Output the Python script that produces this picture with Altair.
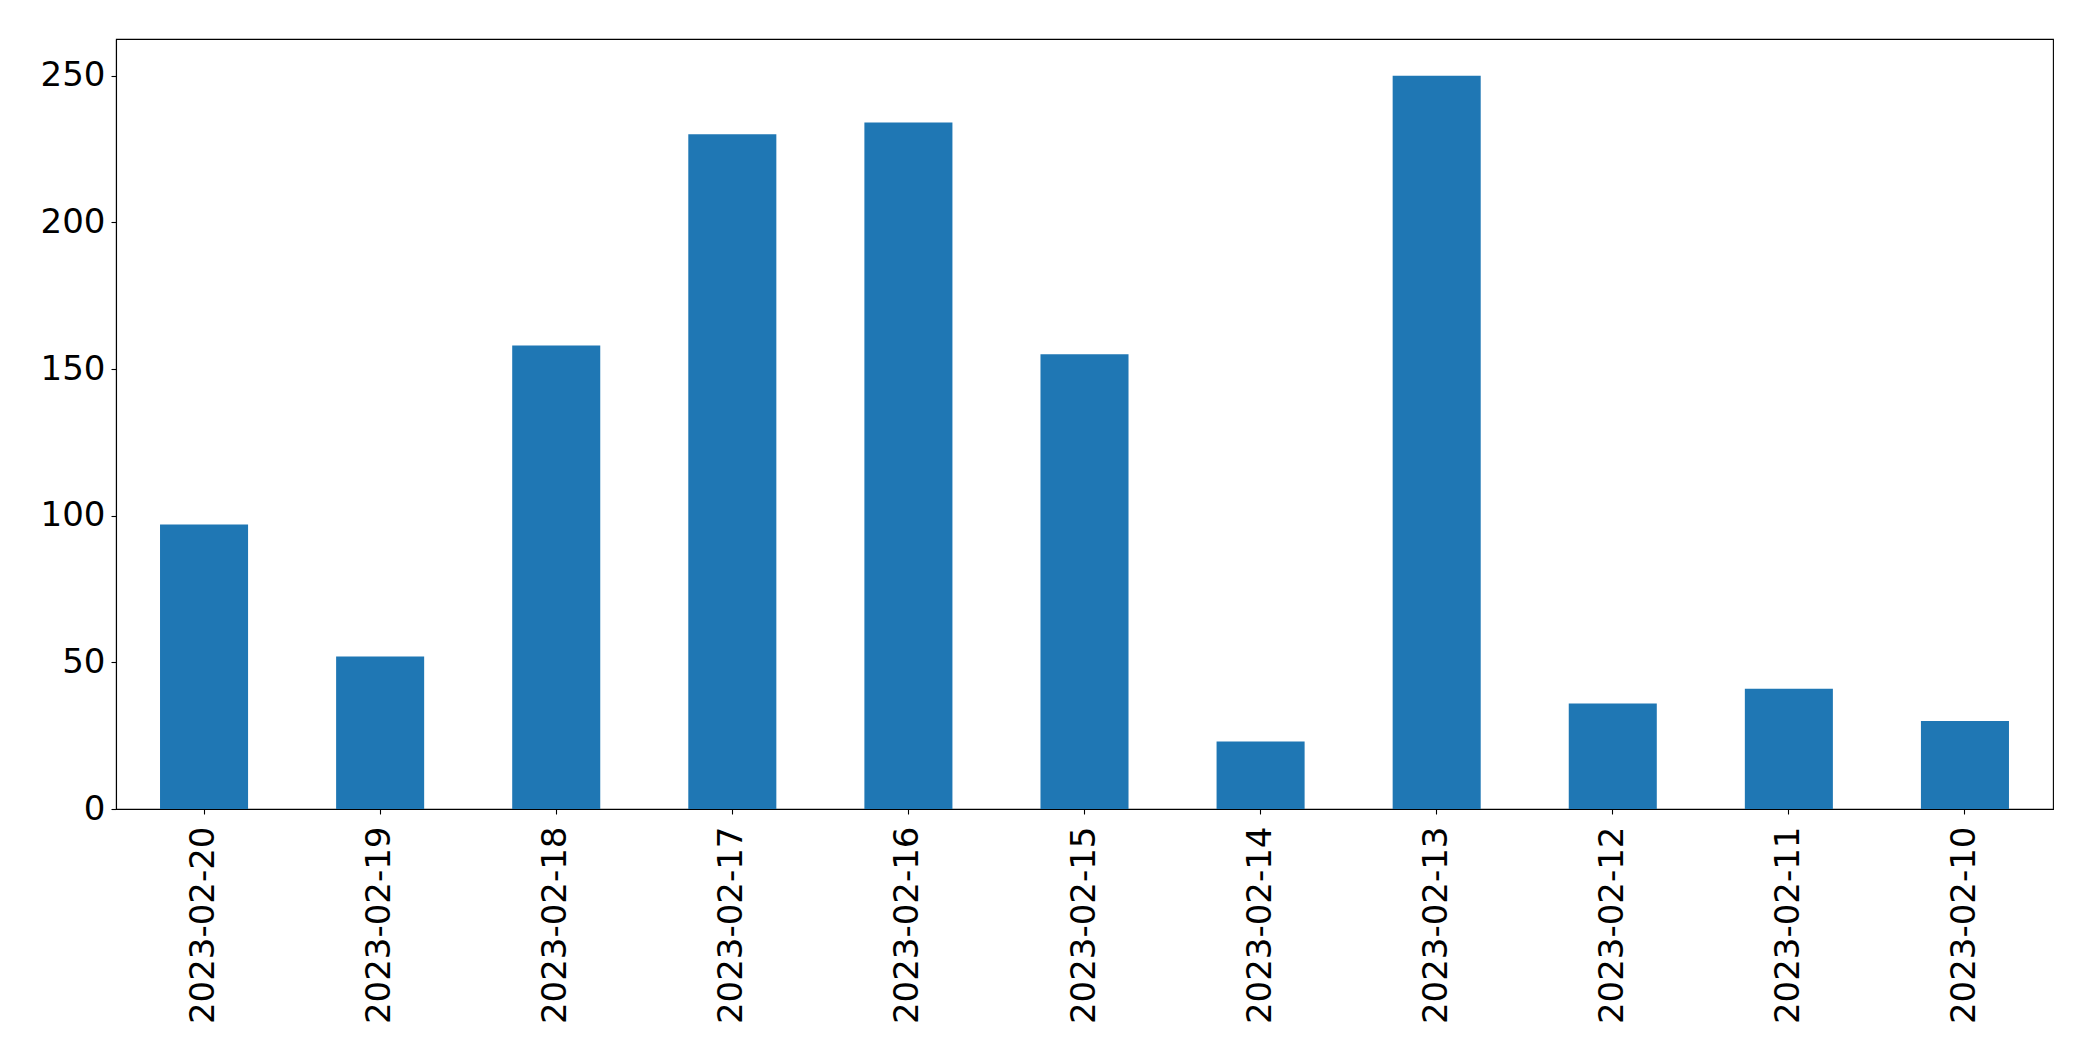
import altair as alt
import pandas as pd

dates = ["2023-02-20", "2023-02-19", "2023-02-18", "2023-02-17", "2023-02-16",
         "2023-02-15", "2023-02-14", "2023-02-13", "2023-02-12", "2023-02-11",
         "2023-02-10"]
counts = [97, 52, 158, 230, 234, 155, 23, 250, 36, 41, 30]
y_ticks = [0, 50, 100, 150, 200, 250]

df = pd.DataFrame({"date": dates, "count": counts})

chart = alt.Chart(df).mark_bar(color="#1f77b4").encode(
    x=alt.X("date:N", sort=dates,
            scale=alt.Scale(paddingInner=0.5, paddingOuter=0.25),
            axis=alt.Axis(title=None, labelAngle=270, labelAlign="right",
                          labelBaseline="middle", labelPadding=12, labelLimit=0,
                          tickSize=5, tickColor="black", domainColor="black",
                          domainWidth=1.1, tickWidth=1.1,
                          labelFontSize=34, labelFont="DejaVu Sans",
                          labelColor="black")),
    y=alt.Y("count:Q", scale=alt.Scale(domain=[0, 262.5], nice=False),
            axis=alt.Axis(title=None, values=y_ticks, grid=False,
                          tickSize=5, tickColor="black", domainColor="black",
                          domainWidth=1.1, tickWidth=1.1, labelPadding=6,
                          labelFontSize=34, labelFont="DejaVu Sans",
                          labelColor="black")),
).properties(
    width=1937, height=770,
    autosize=alt.AutoSizeParams(type="none"),
    padding={"left": 108, "top": 31, "right": 32, "bottom": 244},
).configure_view(
    stroke="black", strokeWidth=1.1
)

chart.save("out.html", embed_options={"renderer": "svg", "actions": False})
